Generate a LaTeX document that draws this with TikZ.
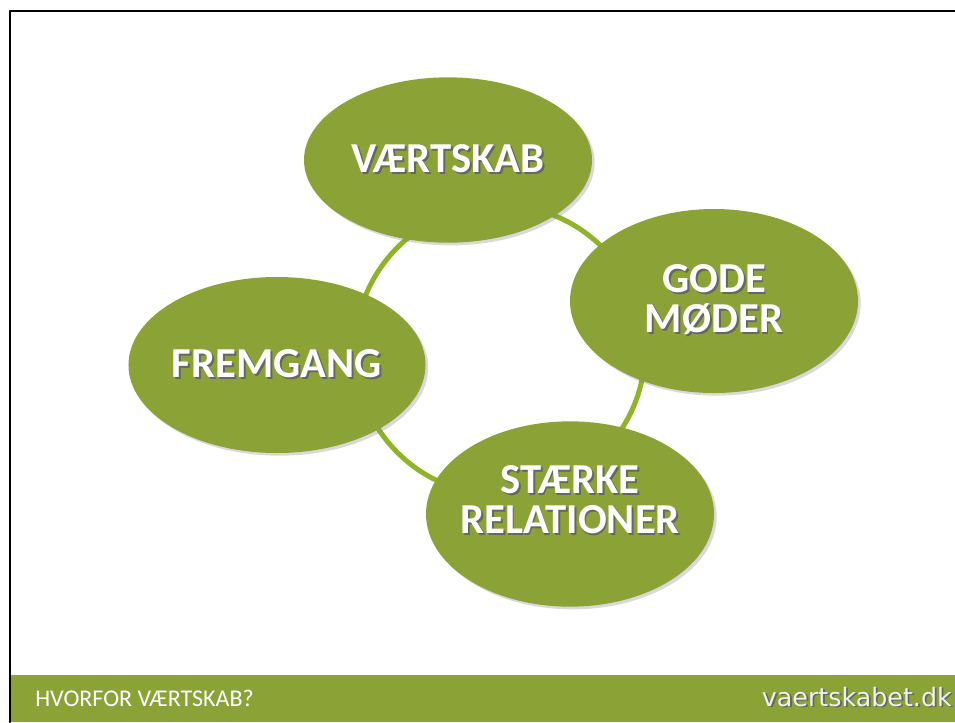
\documentclass[tikz,border=0pt]{standalone}
\usepackage{fontspec}
\setmainfont{Carlito}
\newfontfamily\sitefont{DejaVu Sans}
\usepackage{tikz}
\usetikzlibrary{shapes.geometric,shadows}
\definecolor{leaf}{RGB}{139,163,54}
\definecolor{ringgreen}{RGB}{143,180,40}
\newcommand{\shad}[1]{\makebox[0pt][l]{\raisebox{-1.4pt}{\hspace{1.4pt}\textcolor{black!60}{#1}}}#1}
\tikzset{
  blob/.style={ellipse,fill=leaf,minimum width=216pt,inner sep=0pt,
    drop shadow={shadow xshift=2pt,shadow yshift=-2pt,opacity=.3}},
  word/.style={text=white,align=center,font=\bfseries\fontsize{32}{30}\selectfont},
  ring/.style={draw=ringgreen,line width=3.75pt}
}
\begin{document}
\begin{tikzpicture}[line cap=round,line join=round,x=0.75pt,y=-0.75pt]
\useasboundingbox (0,0) rectangle (955,722);
\coordinate (hub) at (500,350);
\draw[ring] (hub) circle[radius=145];
\node[blob,word,minimum height=124pt] (vaert) at (448,160) {\shad{VÆRTSKAB}};
\node[blob,word,minimum height=138pt] (gode) at (714,301) {\shad{GODE}\\\shad{MØDER}};
\node[blob,word,minimum height=132pt] (frem) at (277,365) {\shad{FREMGANG}};
\node[blob,minimum height=139pt] (rel) at (570,514) {};
\node[word] (reltext) at ([yshift=10pt]rel.center) {\shad{STÆRKE}\\\shad{RELATIONER}};
\fill[leaf] (10,675) rectangle (955,722);
\draw[line width=2pt] (10,722) -- (10,11) -- (955,11);
\node[anchor=base west,text=white,font=\fontsize{18}{20}\selectfont,inner sep=0pt] (title) at (35,706) {HVORFOR VÆRTSKAB?};
\node[anchor=base east,text=white!94!black,font=\sitefont\fontsize{19}{20}\selectfont,inner sep=0pt] (site) at (952,706) {\shad{vaertskabet.dk}};
\end{tikzpicture}
\end{document}
